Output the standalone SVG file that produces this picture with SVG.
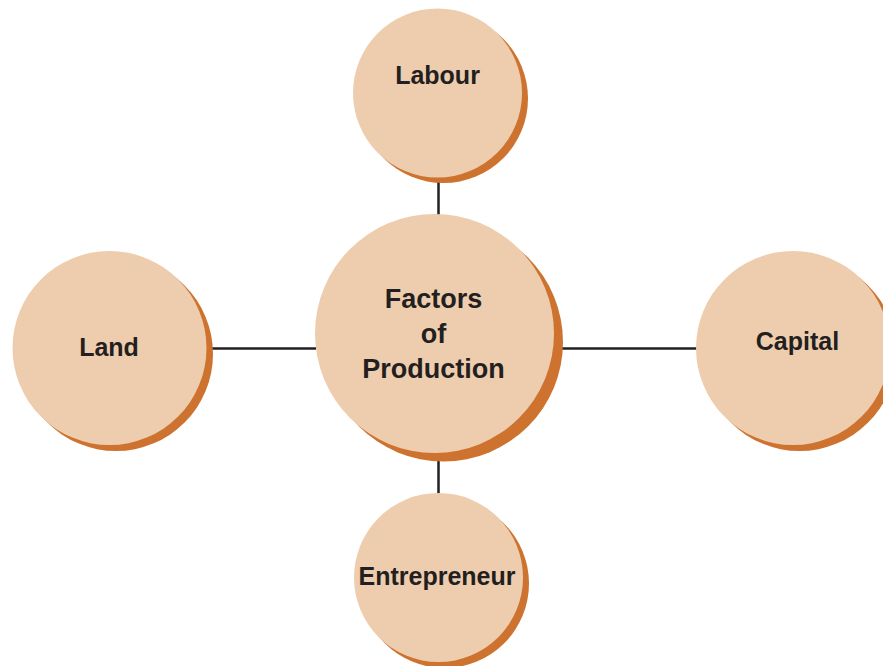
<svg xmlns="http://www.w3.org/2000/svg" width="883" height="666" viewBox="0 0 883 666">
<style>
.shadow{fill:#CE732F}
.disc{fill:#EECDAE}
.lbl{font-family:"Liberation Sans",Arial,sans-serif;font-weight:bold;font-size:25px;fill:#231F20;text-anchor:middle}
.big{font-size:27px}
.conn{stroke:#231F20;stroke-width:2.5;fill:none}
</style>
<rect width="883" height="666" fill="#FFFFFF"/>
<g id="connectors">
<line class="conn" x1="438.5" y1="180" x2="438.5" y2="216"/>
<line class="conn" x1="438.5" y1="458" x2="438.5" y2="495"/>
<line class="conn" x1="210" y1="348.5" x2="316" y2="348.5"/>
<line class="conn" x1="560" y1="348.5" x2="697" y2="348.5"/>
</g>
<g id="node-labour">
<circle class="shadow" cx="443.5" cy="98.5" r="84.5"/>
<circle class="disc" cx="437.5" cy="93" r="84.5"/>
<text class="lbl" x="437.5" y="83.5">Labour</text>
</g>
<g id="node-factors">
<circle class="shadow" cx="443.5" cy="342" r="119.5"/>
<circle class="disc" cx="434.5" cy="333.5" r="119.5"/>
<text class="lbl big" x="433.5" y="308">Factors</text>
<text class="lbl big" x="433.5" y="343">of</text>
<text class="lbl big" x="433.5" y="378">Production</text>
</g>
<g id="node-land">
<circle class="shadow" cx="116" cy="354" r="97"/>
<circle class="disc" cx="109.5" cy="348" r="97"/>
<text class="lbl" x="109" y="356">Land</text>
</g>
<g id="node-capital">
<circle class="shadow" cx="799.5" cy="354" r="97"/>
<circle class="disc" cx="793" cy="348" r="97"/>
<text class="lbl" x="797.5" y="350">Capital</text>
</g>
<g id="node-entrepreneur">
<circle class="shadow" cx="444.5" cy="583.5" r="84.5"/>
<circle class="disc" cx="438.5" cy="577.5" r="84.5"/>
<text class="lbl" x="437" y="585">Entrepreneur</text>
</g>
</svg>
